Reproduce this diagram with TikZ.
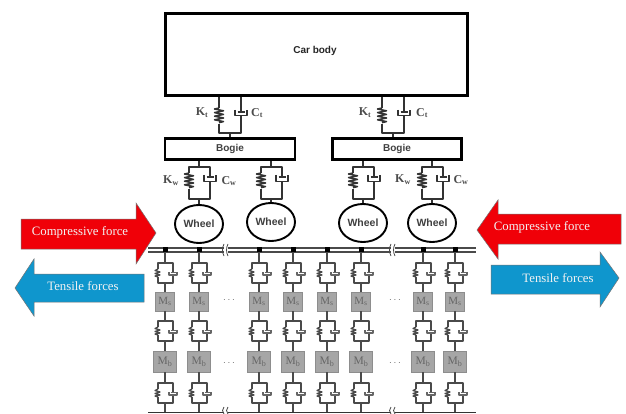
\documentclass[tikz,border=0pt]{standalone}
\usepackage{fontspec}
\setmainfont{Liberation Serif}
\newfontfamily\lblsans{Liberation Sans}
\usetikzlibrary{shapes.geometric,calc}
\definecolor{arrred}{HTML}{F00008}
\definecolor{arrblue}{HTML}{0F96CD}
\definecolor{massgray}{HTML}{A6A6A6}
\definecolor{linegray}{HTML}{4A4A4A}
\newcommand{\bigspring}[2]{(#1,#2) -- ++(-4.5,1) -- ++(9,1.8) -- ++(-9,1.8) -- ++(9,1.8) -- ++(-9,1.8) -- ++(9,1.8) -- ++(-9,1.8) -- ++(9,1.8) -- ++(-4.5,1)}
\tikzset{
  x=1pt,y=-1pt,
  carbox/.style={draw=black,line width=3pt,minimum width=302pt,minimum height=82pt,inner sep=0pt},
  bogiebox/.style={draw=black,line width=2.6pt,minimum height=21pt,inner sep=0pt,font=\lblsans\bfseries\fontsize{10}{11}\selectfont,text=black!75},
  wheelnode/.style={draw=black,ellipse,line width=1.9pt,minimum width=48pt,minimum height=38pt,inner sep=0pt,font=\lblsans\bfseries\fontsize{10.5}{11}\selectfont,text=black!75},
  raildot/.style={fill=black,minimum size=5pt,inner sep=0pt},
  msbox/.style={fill=massgray,draw=massgray!85!black,minimum width=19pt,minimum height=19pt,inner sep=0pt,text=black!60,font=\fontsize{11}{11}\selectfont},
  mbbox/.style={fill=massgray,draw=massgray!85!black,minimum width=23pt,minimum height=21pt,inner sep=0pt,text=black!60,font=\fontsize{11.5}{11}\selectfont},
  lnk/.style={draw=linegray,line width=1.3pt,line join=round},
  thk/.style={draw=black!80,line width=1.5pt,line join=round},
  lbl/.style={inner sep=0pt,font=\bfseries\fontsize{12}{12}\selectfont,text=black!70},
  vdots/.style={inner sep=0pt,font=\fontsize{10}{10}\selectfont,text=black!60},
  redarrow/.style={fill=arrred,draw=black!55,line width=0.5pt},
  bluearrow/.style={fill=arrblue,draw=black!55,line width=0.5pt},
  arrowtxt/.style={inner sep=0pt,text=white!95!black,font=\fontsize{12.8}{14}\selectfont},
  pics/ktunit/.style={code={
    \coordinate (-s) at (-11,-25);
    \coordinate (-d) at (11,-25);
    \coordinate (-bot) at (0,0);
    \draw[thk] \bigspring{-11}{-25};
    \draw[thk] (-11,-9) -- (-11,0) -- (11,0) -- (11,-17);
    \draw[thk] (-d) -- (11,-21) (7.5,-21) -- (14.5,-21);
    \draw[thk] (5,-23) -- (5,-17.5) -- (17,-17.5) -- (17,-23);
  }},
  pics/wunit/.style={code={
    \coordinate (-top) at (0,0);
    \coordinate (-bot) at (0,32);
    \draw[thk] (-10,6) -- (-10,0) -- (11,0) -- (11,10);
    \draw[thk] (-10,22) -- (-10,32) -- (11,32) -- (11,14.5);
    \draw[thk] \bigspring{-10}{6};
    \draw[thk] (7.5,10) -- (14.5,10);
    \draw[thk] (5,8) -- (5,14.5) -- (17,14.5) -- (17,8);
  }},
  pics/smallunit/.style={code={
    \coordinate (-top) at (0,0);
    \coordinate (-bot) at (0,20);
    \draw[lnk] (-7,6) -- (-7,0) -- (8,0) -- (8,9);
    \draw[lnk] (-7,14) -- (-7,20) -- (8,20) -- (8,12);
    \draw[lnk] (-7,6) -- (-10,7.5) -- (-5,9) -- (-10,10.5) -- (-5,12) -- (-10,13) -- (-7,14);
    \draw[lnk,line width=1.2pt,draw=black!60] (4,9) -- (4,12) -- (12,12) -- (12,9);
    \draw[lnk,line width=1.2pt,draw=black!60] (5.5,9.5) -- (10.5,9.5);
  }},
}
\begin{document}
\begin{tikzpicture}
\useasboundingbox (0,0) rectangle (626,414);
\fill[white] (0,0) rectangle (626,414);
% car and bogies
\node[carbox] (car) at (316,55) {};
\node[inner sep=0pt,text=black!85,font=\lblsans\bfseries\fontsize{10}{11}\selectfont] (cartxt) at (315,51) {Car body};
\node[bogiebox,minimum width=130pt] (bog1) at (230,149) {Bogie};
\node[bogiebox,minimum width=129pt] (bog2) at (397,149) {Bogie};
% secondary suspension
\pic (kt1) at (230,133) {ktunit};
\pic (kt2) at (393,133) {ktunit};
\draw[thk] (kt1-s) -- (kt1-s |- car.south) (kt1-d) -- (kt1-d |- car.south) (kt1-bot) -- (kt1-bot |- bog1.north);
\draw[thk] (kt2-s) -- (kt2-s |- car.south) (kt2-d) -- (kt2-d |- car.south) (kt2-bot) -- (kt2-bot |- bog2.north);
\node[lbl] (kt1l) at (202,113) {K\textsubscript{t}};
\node[lbl] (ct1l) at (257,113) {C\textsubscript{t}};
\node[lbl] (kt2l) at (365,113) {K\textsubscript{t}};
\node[lbl] (ct2l) at (422,113) {C\textsubscript{t}};
\node[lbl] (kw1l) at (171,181) {K\textsubscript{w}};
\node[lbl] (cw1l) at (229,181) {C\textsubscript{w}};
\node[lbl] (kw2l) at (403,180) {K\textsubscript{w}};
\node[lbl] (cw2l) at (461,180) {C\textsubscript{w}};
% wheels and primary suspension
\foreach \n/\x/\wy/\b in {1/199/224/bog1,2/271/222/bog1,3/363/223/bog2,4/432/223/bog2}{
  \node[wheelnode] (wh\n) at (\x,\wy) {Wheel};
  \pic (wu\n) at (\x,167) {wunit};
  \draw[thk] (wu\n-top) -- (wu\n-top |- \b.south);
  \draw[thk] (wu\n-bot) -- (wh\n.north);
}
% rail, top and bottom
\foreach \a/\b in {148/224,228/391,395/476}{
  \coordinate (ra\a) at (\a,248);
  \coordinate (rb\a) at (\b,248);
  \coordinate (rc\a) at (\a,252);
  \coordinate (rd\a) at (\b,252);
  \draw[lnk,line width=1.3pt] (ra\a) -- (rb\a) (rc\a) -- (rd\a);
  \coordinate (re\a) at (\a,412.5);
  \coordinate (rf\a) at (\b,412.5);
  \draw[black!80,line width=1.8pt] (re\a) -- (rf\a);
}
\foreach \x in {224,228,391,395}{
  \coordinate (bk\x a) at (\x,244);
  \coordinate (bk\x b) at (\x,256);
  \draw[linegray,line width=0.8pt] (bk\x a) .. controls ($(bk\x a)+(-2,4)$) and ($(bk\x b)+(-2,-4)$) .. (bk\x b);
  \coordinate (bl\x a) at (\x,407);
  \coordinate (bl\x b) at (\x,414);
  \draw[linegray,line width=0.8pt] (bl\x a) .. controls ($(bl\x a)+(-2,2)$) and ($(bl\x b)+(-2,-2)$) .. (bl\x b);
}
% track columns
\foreach \n/\x in {1/165,2/199,3/259,4/293,5/327,6/361,7/423,8/455}{
  \pic (ua\n) at (\x,263) {smallunit};
  \pic (ub\n) at (\x,321) {smallunit};
  \pic (uc\n) at (\x,383) {smallunit};
  \node[raildot] (dot\n) at (\x,249.5) {};
  \node[msbox] (ms\n) at (\x,301.5) {M\textsubscript{s}};
  \node[mbbox] (mb\n) at (\x,361.5) {M\textsubscript{b}};
  \coordinate (gnd\n) at (\x,412);
  \draw[lnk] (dot\n) -- (ua\n-top);
  \draw[lnk] (ua\n-bot) -- (ms\n);
  \draw[lnk] (ms\n) -- (ub\n-top);
  \draw[lnk] (ub\n-bot) -- (mb\n);
  \draw[lnk] (mb\n) -- (uc\n-top);
  \draw[lnk] (uc\n-bot) -- (gnd\n);
}
\foreach \n/\x/\y in {1/229/300,2/229/363,3/395/300,4/395/363}{
  \node[vdots] (dd\n) at (\x,\y) {$\cdots$};
}
% force arrows
\draw[redarrow] (21,219) -- (136,219) -- (136,203) -- (156,233) -- (136,264) -- (136,249) -- (21,249) -- cycle;
\node[arrowtxt] (t1) at (80,232) {Compressive force};
\draw[bluearrow] (144,274) -- (34,274) -- (34,259) -- (15,288) -- (34,316) -- (34,302) -- (144,302) -- cycle;
\node[arrowtxt] (t2) at (83,286) {Tensile forces};
\draw[redarrow] (621,214) -- (498,214) -- (498,200) -- (477,230) -- (498,259) -- (498,244) -- (621,244) -- cycle;
\node[arrowtxt] (t3) at (542,227) {Compressive force};
\draw[bluearrow] (491,265) -- (600,265) -- (600,252) -- (619,278) -- (600,307) -- (600,294) -- (491,294) -- cycle;
\node[arrowtxt] (t4) at (558,278) {Tensile forces};
\end{tikzpicture}
\end{document}
